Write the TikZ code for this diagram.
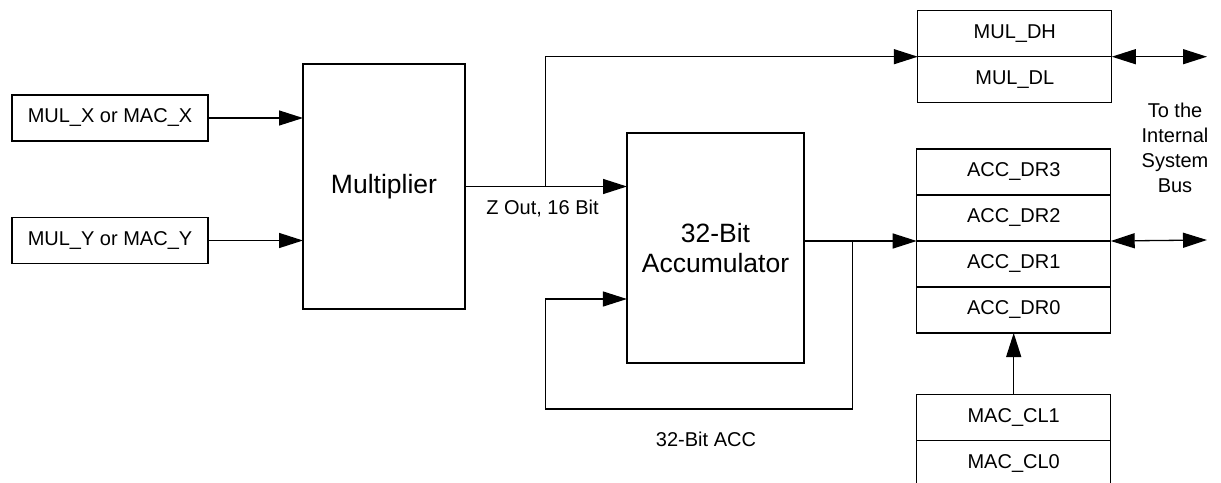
\documentclass[tikz,border=0pt]{standalone}
\usepackage{fontspec}
\setmainfont{Liberation Sans}
\usepackage{tikz}
\usetikzlibrary{arrows.meta,positioning,calc}

\begin{document}
\begin{tikzpicture}[
    x=1pt, y=-1pt, line width=1.3pt,
    reg/.style={draw, minimum width=194pt, minimum height=46pt, inner sep=0pt, outer sep=0pt, font=\fontsize{20}{25}\selectfont},
    block/.style={draw, inner sep=0pt, outer sep=0pt, align=center, font=\fontsize{26.5}{30}\selectfont},
    lbl/.style={inner sep=0pt, align=center, font=\fontsize{20}{25}\selectfont},
    arrow/.style={-{Triangle[length=24pt, width=15pt]}},
    biarrow/.style={{Triangle[length=24pt, width=15pt]}-{Triangle[length=24pt, width=15pt]}}
]
    \useasboundingbox (0,0) rectangle (1221,482);

    % Input registers
    \node[reg, minimum width=196pt] (mulx) at (110,118) {MUL\_X or MAC\_X};
    \node[reg, minimum width=196pt] (muly) at (110,240.5) {MUL\_Y or MAC\_Y};

    % Multiplier and accumulator
    \node[block, minimum width=162pt, minimum height=245pt] (mult) at (384,186.5) {Multiplier};
    \node[block, minimum width=177pt, minimum height=230pt] (acc) at (715.5,248) {32-Bit\\Accumulator};

    % Result registers
    \node[reg] (muldh) at (1014.8,33.7) {MUL\_DH};
    \node[reg, below=0pt of muldh] (muldl) {MUL\_DL};
    \node[reg] (dr3) at (1013.7,172) {ACC\_DR3};
    \node[reg, below=0pt of dr3] (dr2) {ACC\_DR2};
    \node[reg, below=0pt of dr2] (dr1) {ACC\_DR1};
    \node[reg, below=0pt of dr1] (dr0) {ACC\_DR0};

    % Control registers
    \node[reg] (cl1) at (1013.7,417.2) {MAC\_CL1};
    \node[reg, below=0pt of cl1] (cl0) {MAC\_CL0};

    % Labels
    \node[lbl] (zout) at (542.5,209) {Z Out, 16 Bit};
    \node[lbl] (acclbl) at (706,439) {32-Bit ACC};
    \node[lbl] (bus) at (1175,148) {To the\\Internal\\System\\Bus};

    % Branch points
    \coordinate (zsplit) at (545.7,186.5);
    \coordinate (accout) at (acc.east |- dr2.south);
    \coordinate (accsplit) at (852.3,240);
    \coordinate (fbcorner) at (545.7,409);
    \coordinate (fbin) at (626.9,299);
    \coordinate (busa) at (1207,56.7);
    \coordinate (busb) at (1207,240);

    % Data paths
    \draw[arrow] (mulx.east) -- (mulx.east -| mult.west);
    \draw[arrow] (muly.east) -- (muly.east -| mult.west);
    \draw[arrow] (mult.east) -- (mult.east -| acc.west);
    \draw[arrow] (zsplit) |- (muldh.south west);
    \draw[arrow] (accout) -- (dr2.south west);
    \draw[arrow] (accsplit) |- (fbcorner) |- (fbin);
    \draw[arrow] (cl1.north) -- (dr0.south);

    % Bus connections
    \draw[biarrow] (muldh.south east) -- (busa);
    \draw[biarrow] (dr2.south east) -- (busb);
\end{tikzpicture}
\end{document}
